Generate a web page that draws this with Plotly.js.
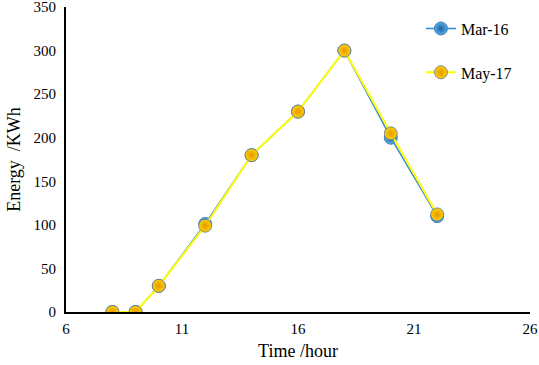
<!DOCTYPE html>
<html>
<head>
<meta charset="utf-8">
<script src="https://cdn.plot.ly/plotly-3.0.1.min.js"></script>
<style>html,body{margin:0;padding:0;background:#fff}#chart{width:539px;height:365px}</style>
</head>
<body>
<div id="chart"></div>
<script>
const hours = [8, 9, 10, 12, 14, 16, 18, 20, 22];
const mar16 = [0, 0, 30, 101, 180, 230, 300, 200, 110];
const may17 = [0, 0, 30, 99, 180, 230, 300, 205, 112];
const xTicks = [6, 11, 16, 21, 26];
const yTicks = [0, 50, 100, 150, 200, 250, 300, 350];

const font = {family: 'Liberation Serif, DejaVu Serif, serif', color: '#000'};

const traces = [
  {
    x: hours, y: mar16, name: 'Mar-16', type: 'scatter', mode: 'lines+markers',
    legendgroup: 'a',
    line: {color: '#2b8ad8', width: 1.5},
    marker: {size: 13, color: '#5aaee8', gradient: {type: 'radial', color: '#1b5f9e'},
             line: {color: '#3f7fb8', width: 1}}
  },
  {
    x: hours, y: may17, name: 'May-17', type: 'scatter', mode: 'lines+markers',
    legendgroup: 'b',
    line: {color: '#ffff00', width: 2},
    marker: {size: 13, color: '#ffd000', gradient: {type: 'radial', color: '#e39800'},
             line: {color: '#5a7aa0', width: 0.8}}
  }
];

const layout = {
  width: 539, height: 365,
  margin: {l: 66, r: 9, t: 7, b: 53},
  paper_bgcolor: '#fff', plot_bgcolor: '#fff',
  font: Object.assign({size: 15}, font),
  showlegend: true,
  legend: {x: 0.765, y: 0.985, xanchor: 'left', yanchor: 'top', tracegroupgap: 20,
           itemwidth: 30,
           font: Object.assign({size: 16}, font), bgcolor: 'rgba(0,0,0,0)'},
  xaxis: {
    range: [6, 26], tickvals: xTicks, ticktext: xTicks.map(String),
    showgrid: false, zeroline: false, showline: true, linecolor: '#000', linewidth: 2,
    ticks: '', tickfont: Object.assign({size: 15}, font), ticklabeloverflow: 'allow',
    ticklabelstandoff: 2,
    title: {text: 'Time /hour', font: Object.assign({size: 18}, font), standoff: 8}
  },
  yaxis: {
    range: [0, 350], tickvals: yTicks, ticktext: yTicks.map(String),
    showgrid: false, zeroline: false, showline: true, linecolor: '#000', linewidth: 2,
    ticks: '', tickfont: Object.assign({size: 15}, font), ticklabeloverflow: 'allow',
    ticklabelstandoff: 5,
    title: {text: 'Energy  /KWh', font: Object.assign({size: 18}, font), standoff: 8}
  }
};

Plotly.newPlot('chart', traces, layout, {displayModeBar: false, staticPlot: true});
</script>
</body>
</html>
